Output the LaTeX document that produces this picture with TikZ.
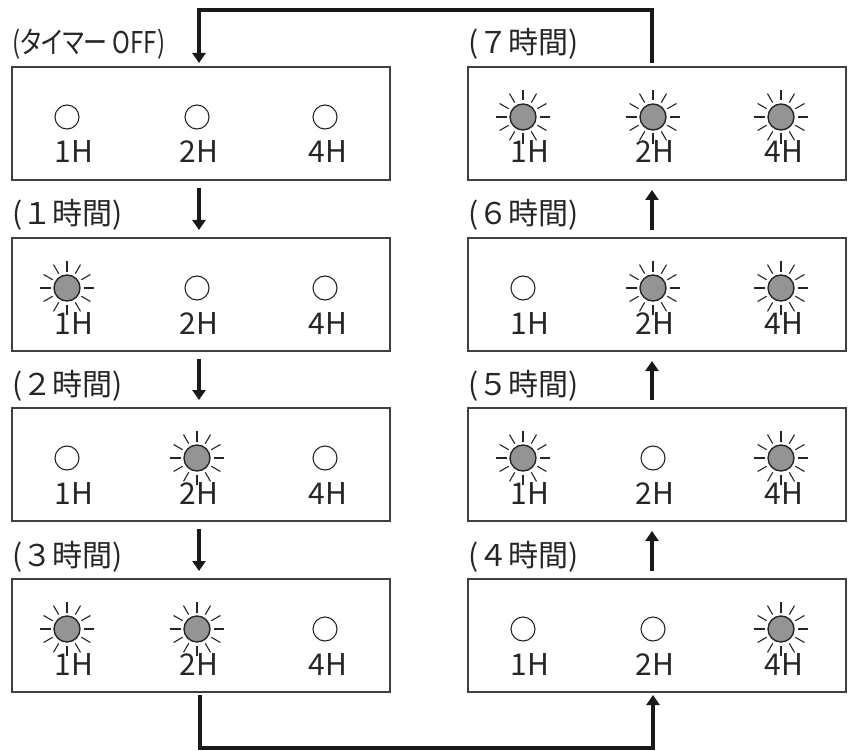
\documentclass[tikz,border=0pt]{standalone}
\usepackage{fontspec}
\usepackage{graphicx}
\setmainfont{Noto Sans CJK JP}
\newfontfamily\paltfont[RawFeature=+palt]{Noto Sans CJK JP}
\usetikzlibrary{arrows.meta,calc}

\tikzset{
  panel/.style={draw=black!75, line width=1.1pt, minimum width=378pt, minimum height=113pt, inner sep=0pt, outer sep=0pt},
  flow/.style={line width=4pt, line join=miter, draw=black!90, -{Triangle[length=10pt,width=13pt]}},
  offlamp/.style={circle, draw=black!85, line width=1.1pt, minimum size=24pt, inner sep=0pt},
  onlamp/.style={circle, draw=black!85, fill=black!42, line width=1.4pt, minimum size=26pt, inner sep=0pt},
  ray/.style={draw=black!85, line width=1.1pt, preaction={draw=white, line width=3.2pt}},
  hlabel/.style={font=\fontsize{30}{30}\selectfont, inner sep=0pt, anchor=base, text=black!85},
  steplabel/.style={font=\fontsize{30}{30}\selectfont, inner sep=0pt, anchor=base west, text=black!85},
}

\newcommand\drawlamp[3]{%
  \ifnum#2=1
    \node[onlamp] (#1) at (#3) {};
    \foreach \a in {0,30,...,330}{\draw[ray] ([shift={(\a:16.5pt)}]#1.center) -- ([shift={(\a:27pt)}]#1.center);}
  \else
    \node[offlamp] (#1) at (#3) {};
  \fi}

\begin{document}
\begin{tikzpicture}[x=1pt,y=-1pt]
\useasboundingbox (0,0) rectangle (853,751);

\foreach \nm/\cx/\cy/\lab/\sa/\sb/\sc in {
  b0/201/123.5/{\scalebox{0.8}[1]{\paltfont (タイマー OFF)}}/0/0/0,
  b1/201/294.5/{(１時間)}/1/0/0,
  b2/201/464.5/{(２時間)}/0/1/0,
  b3/201/635.5/{(３時間)}/1/1/0,
  r4/657/635.5/{(４時間)}/0/0/1,
  r5/657/464.5/{(５時間)}/1/0/1,
  r6/657/294.5/{(６時間)}/0/1/1,
  r7/657/123.5/{(７時間)}/1/1/1}{
  \node[panel] (\nm) at (\cx,\cy) {};
  \node[steplabel] (\nm-lab) at ($(\nm.north west)+(0,-13)$) {\lab};
  \node[hlabel] (\nm-t1) at ($(\nm)+(-127,39.5)$) {1H};
  \node[hlabel] (\nm-t2) at ($(\nm)+(-2,39.5)$) {2H};
  \node[hlabel] (\nm-t3) at ($(\nm)+(127,39.5)$) {4H};
  \drawlamp{\nm-1}{\sa}{$(\nm)+(-134,-6.5)$}
  \drawlamp{\nm-2}{\sb}{$(\nm)+(-4,-6.5)$}
  \drawlamp{\nm-3}{\sc}{$(\nm)+(124,-6.5)$}
}

% left column, downwards
\draw[flow] ($(b0.south)+(-2,8)$) -- ($(b1.north)+(-2,-8)$);
\draw[flow] ($(b1.south)+(-2,8)$) -- ($(b2.north)+(-2,-8)$);
\draw[flow] ($(b2.south)+(-2,8)$) -- ($(b3.north)+(-2,-8)$);
% right column, upwards
\draw[flow] ($(r4.north)+(-5,-8)$) -- ($(r5.south)+(-5,10)$);
\draw[flow] ($(r5.north)+(-5,-8)$) -- ($(r6.south)+(-5,10)$);
\draw[flow] ($(r6.north)+(-5,-8)$) -- ($(r7.south)+(-5,10)$);
% bottom loop
\draw[flow] ($(b3.south)+(-1,3)$) -- ($(b3.south)+(-1,56)$) -| ($(r4.south)+(-4,3)$);
% top loop
\draw[flow] ($(r7.north)+(-5,-4)$) -- ($(r7.north)+(-5,-57)$) -| ($(b0.north)+(-2,-4)$);
\end{tikzpicture}
\end{document}
